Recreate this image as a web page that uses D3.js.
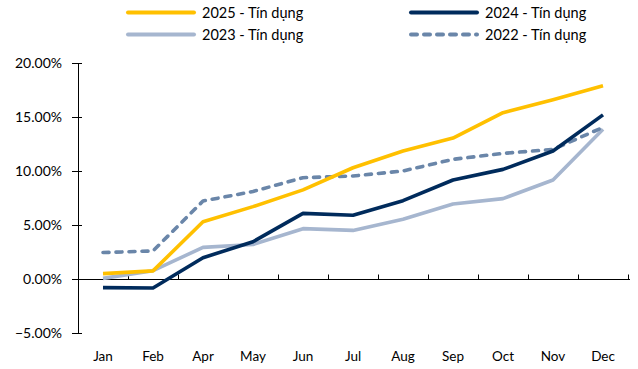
<!DOCTYPE html>
<html>
<head>
<meta charset="utf-8">
<script src="https://cdn.jsdelivr.net/npm/d3@7"></script>
<style>
  html, body { margin: 0; padding: 0; background: #fff; }
  svg text { font-family: Lato, "Open Sans", sans-serif; fill: #000; }
</style>
</head>
<body>
<svg id="chart" width="638" height="369"></svg>
<script>
// Monthly credit growth (% change since start of year)
const months = ["Jan", "Feb", "Apr", "May", "Jun", "Jul", "Aug", "Sep", "Oct", "Nov", "Dec"];
const credit2025 = [0.5, 0.75, 5.3, 6.7, 8.25, 10.3, 11.85, 13.05, 15.4, 16.6, 17.9];
const credit2024 = [-0.8, -0.83, 1.97, 3.45, 6.08, 5.9, 7.25, 9.17, 10.15, 11.85, 15.2];
const credit2023 = [0.06, 0.77, 2.93, 3.2, 4.66, 4.5, 5.53, 6.94, 7.44, 9.17, 13.86];
const credit2022 = [2.45, 2.6, 7.22, 8.1, 9.38, 9.54, 10.0, 11.08, 11.63, 12.0, 14.04];
const yTicks = [-5, 0, 5, 10, 15, 20];

const series = [
  { name: "2025 - Tín dụng", values: credit2025, color: "#FFC000", dash: null },
  { name: "2024 - Tín dụng", values: credit2024, color: "#002B5C", dash: null },
  { name: "2023 - Tín dụng", values: credit2023, color: "#A6B6CF", dash: null },
  { name: "2022 - Tín dụng", values: credit2022, color: "#6A86A9", dash: "6,7" }
];

const svg = d3.select("#chart");
const plotLeft = 78, plotRight = 628, plotTop = 63, plotBottom = 333;

const x = d3.scaleBand().domain(months).range([plotLeft, plotRight]);
const y = d3.scaleLinear().domain([-5, 20]).range([plotBottom, plotTop]);

// Y axis with crossing ticks
svg.append("line")
  .attr("x1", plotLeft + 0.5).attr("x2", plotLeft + 0.5).attr("y1", y(20)).attr("y2", y(-5))
  .attr("stroke", "#000").attr("stroke-width", 1);
const yg = svg.append("g");
yg.selectAll("line").data(yTicks).join("line")
  .attr("x1", plotLeft - 6).attr("x2", plotLeft + 4)
  .attr("y1", d => Math.round(y(d)) + 0.5).attr("y2", d => Math.round(y(d)) + 0.5)
  .attr("stroke", "#000");
yg.selectAll("text").data(yTicks).join("text")
  .attr("x", 62).attr("y", d => y(d)).attr("dy", "0.35em")
  .attr("text-anchor", "end").attr("font-size", 14)
  .text(d => d3.format(".2f")(d) + "%");

// Category axis drawn along zero, with inward tick marks at band edges
const zeroY = Math.round(y(0)) + 0.5;
svg.append("line")
  .attr("x1", plotLeft).attr("x2", plotRight + 2).attr("y1", zeroY).attr("y2", zeroY)
  .attr("stroke", "#000");
const edges = months.map(m => x(m)).concat([x(months[months.length - 1]) + x.bandwidth()]);
svg.append("g").selectAll("line").data(edges.slice(1)).join("line")
  .attr("x1", d => Math.round(d) + 0.5).attr("x2", d => Math.round(d) + 0.5)
  .attr("y1", zeroY).attr("y2", zeroY - 5)
  .attr("stroke", "#000");
svg.append("g").selectAll("text").data(months).join("text")
  .attr("x", d => x(d) + x.bandwidth() / 2).attr("y", 356).attr("dy", "0.35em")
  .attr("text-anchor", "middle").attr("font-size", 13.5)
  .text(d => d);

// Lines, drawn from oldest to newest
const line = d3.line()
  .x((d, i) => x(months[i]) + x.bandwidth() / 2)
  .y(d => y(d));
const drawOrder = [series[2], series[3], series[1], series[0]];
svg.append("g").selectAll("path").data(drawOrder).join("path")
  .attr("d", s => line(s.values))
  .attr("fill", "none")
  .attr("stroke", s => s.color)
  .attr("stroke-width", 3.6)
  .attr("stroke-linejoin", "round")
  .attr("stroke-linecap", s => s.dash ? "round" : "butt")
  .attr("stroke-dasharray", s => s.dash);

// Legend in two columns
const legendPos = [[126, 12.5], [409, 12.5], [126, 34.5], [409, 34.5]];
const lg = svg.append("g").selectAll("g").data(series).join("g")
  .attr("transform", (s, i) => `translate(${legendPos[i][0]},${legendPos[i][1]})`);
lg.append("line")
  .attr("x1", 2).attr("x2", 68).attr("y1", 0).attr("y2", 0)
  .attr("stroke", s => s.color).attr("stroke-width", 4)
  .attr("stroke-linecap", "round")
  .attr("stroke-dasharray", s => s.dash);
lg.append("text")
  .attr("x", 76).attr("y", 0).attr("dy", "0.35em").attr("font-size", 14.5)
  .text(s => s.name);
</script>
</body>
</html>
